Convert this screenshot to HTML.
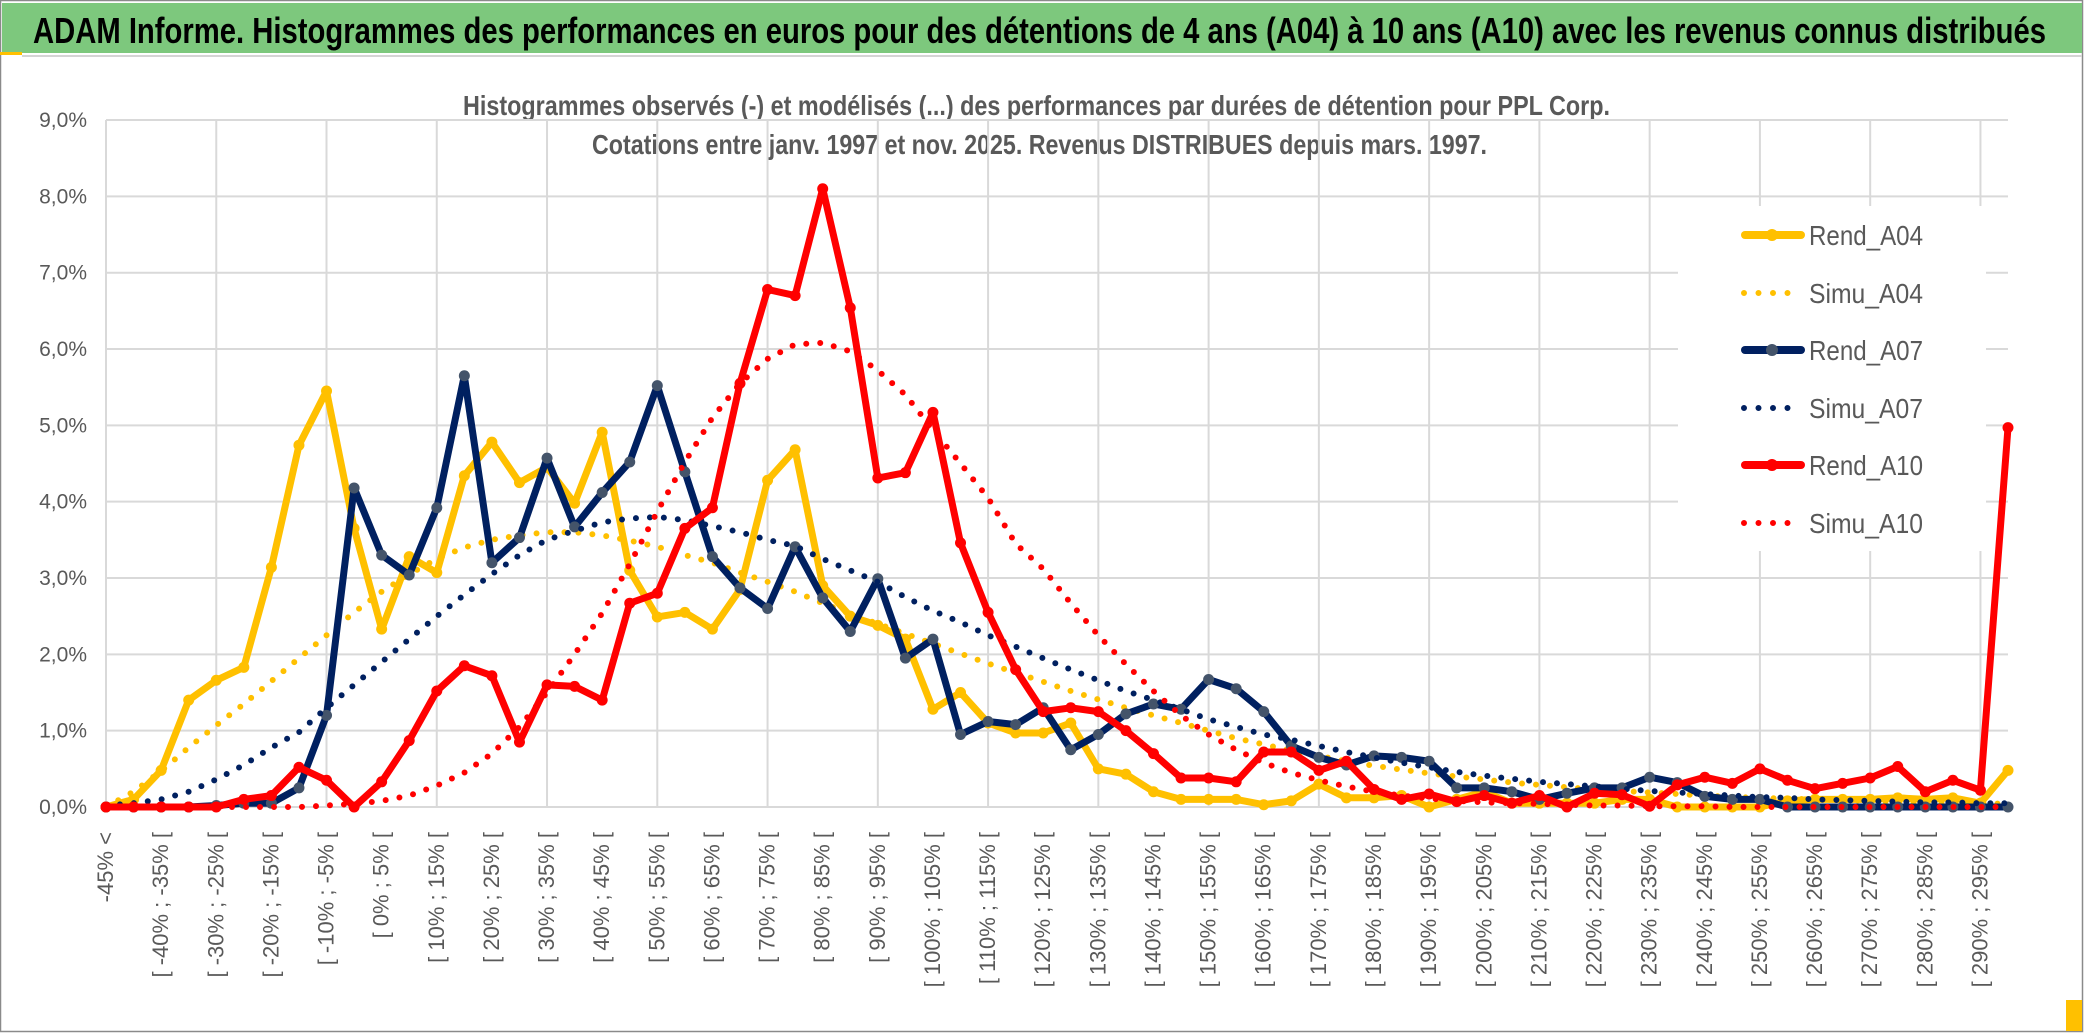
<!DOCTYPE html>
<html><head><meta charset="utf-8"><style>
html,body{margin:0;padding:0;background:#fff;}
svg{display:block;font-family:"Liberation Sans",sans-serif;}
</style></head><body>
<svg id="chart" width="2086" height="1033" viewBox="0 0 2086 1033" xmlns="http://www.w3.org/2000/svg">
<rect x="0.5" y="0.5" width="2082" height="1031" fill="#fff" stroke="#8a8a8a" stroke-width="1.5"/>
<rect x="2" y="3" width="2080" height="50" fill="#7dc87d"/>
<rect x="0" y="52" width="22" height="3" fill="#ffc000"/>
<rect x="22" y="55" width="2060" height="2" fill="#d4d4d4"/>
<text x="33" y="43" font-size="36" font-weight="bold" fill="#000" textLength="2013" lengthAdjust="spacingAndGlyphs">ADAM Informe. Histogrammes des performances en euros pour des détentions de 4 ans (A04) à 10 ans (A10) avec les revenus connus distribués</text>
<text x="463" y="115" font-size="28" font-weight="bold" fill="#595959" textLength="1147" lengthAdjust="spacingAndGlyphs">Histogrammes observés (-) et modélisés (...) des performances par durées de détention pour PPL Corp.</text>
<text x="592" y="154" font-size="28" font-weight="bold" fill="#595959" textLength="895" lengthAdjust="spacingAndGlyphs">Cotations entre janv. 1997 et nov. 2025. Revenus DISTRIBUES depuis mars. 1997.</text>
<g id="grid"></g>
<g id="ylabels"></g>
<g id="xlabels"></g>
<rect x="1678" y="206" width="308" height="345" fill="#fff"/>
<g id="series"></g>
<g id="legend"></g>
<rect x="2066" y="1000" width="16" height="31" fill="#ffc000"/>
</svg>
<script>
const rendA04 = [0,0.1,0.48,1.4,1.66,1.83,3.14,4.74,5.45,3.65,2.33,3.28,3.07,4.34,4.78,4.25,4.45,3.98,4.91,3.1,2.49,2.55,2.33,2.85,4.28,4.68,2.9,2.5,2.38,2.2,1.28,1.5,1.1,0.97,0.97,1.1,0.5,0.43,0.2,0.1,0.1,0.1,0.03,0.08,0.3,0.12,0.12,0.15,0.0,0.1,0.2,0.05,0.05,0.05,0.05,0.1,0.1,0.0,0.0,0.0,0.0,0.08,0.1,0.1,0.1,0.12,0.1,0.12,0.05,0.48];
const simuA04 = [0,0.2,0.47,0.78,1.07,1.35,1.65,1.95,2.25,2.55,2.82,3.05,3.25,3.4,3.5,3.56,3.6,3.6,3.56,3.49,3.41,3.3,3.2,3.07,2.95,2.82,2.67,2.53,2.4,2.27,2.14,2.01,1.88,1.76,1.64,1.52,1.41,1.3,1.2,1.1,1.0,0.9,0.82,0.74,0.67,0.6,0.54,0.49,0.44,0.4,0.36,0.32,0.29,0.26,0.23,0.21,0.19,0.17,0.15,0.13,0.12,0.11,0.1,0.09,0.08,0.07,0.06,0.05,0.05,0.04];
const rendA07 = [0,0,0,0,0.02,0.05,0.05,0.25,1.2,4.18,3.3,3.04,3.92,5.65,3.2,3.53,4.57,3.67,4.12,4.52,5.52,4.39,3.28,2.87,2.6,3.41,2.74,2.3,2.99,1.95,2.2,0.95,1.12,1.08,1.3,0.75,0.95,1.22,1.35,1.28,1.67,1.55,1.25,0.8,0.65,0.55,0.67,0.65,0.6,0.25,0.25,0.2,0.1,0.18,0.25,0.25,0.39,0.32,0.14,0.1,0.1,0,0,0,0,0,0,0,0,0];
const simuA07 = [0.02,0.05,0.1,0.2,0.36,0.55,0.78,0.98,1.3,1.6,1.9,2.2,2.5,2.78,3.05,3.3,3.5,3.62,3.73,3.78,3.8,3.76,3.68,3.6,3.5,3.42,3.25,3.1,2.95,2.75,2.57,2.42,2.25,2.1,1.95,1.8,1.66,1.52,1.4,1.28,1.15,1.05,0.95,0.88,0.8,0.72,0.65,0.58,0.52,0.46,0.41,0.37,0.33,0.3,0.27,0.24,0.21,0.19,0.17,0.15,0.13,0.12,0.1,0.09,0.08,0.07,0.06,0.06,0.05,0.05];
const rendA10 = [0,0,0,0,0,0.1,0.15,0.52,0.35,0,0.33,0.87,1.52,1.85,1.72,0.85,1.6,1.58,1.4,2.67,2.8,3.65,3.92,5.55,6.78,6.7,8.1,6.54,4.31,4.38,5.17,3.46,2.55,1.8,1.25,1.3,1.25,1.0,0.7,0.38,0.38,0.33,0.72,0.72,0.48,0.6,0.23,0.1,0.17,0.07,0.15,0.05,0.15,0.0,0.18,0.16,0.01,0.29,0.39,0.31,0.5,0.35,0.24,0.31,0.38,0.53,0.2,0.35,0.22,4.97];
const simuA10 = [0,0,0,0,0,0,0,0,0.02,0.04,0.08,0.15,0.28,0.45,0.7,1.05,1.5,2.0,2.54,3.18,3.87,4.52,5.1,5.55,5.87,6.06,6.08,5.97,5.72,5.4,4.94,4.5,4.05,3.45,3.12,2.67,2.25,1.87,1.52,1.2,0.95,0.75,0.58,0.45,0.35,0.27,0.2,0.15,0.11,0.08,0.06,0.05,0.04,0.03,0.02,0.02,0.01,0.01,0.01,0,0,0,0,0,0,0,0,0,0,0];
const yTicks = [0,1,2,3,4,5,6,7,8,9];
const binLower = [-45,-40,-35,-30,-25,-20,-15,-10,-5,0,5,10,15,20,25,30,35,40,45,50,55,60,65,70,75,80,85,90,95,100,105,110,115,120,125,130,135,140,145,150,155,160,165,170,175,180,185,190,195,200,205,210,215,220,225,230,235,240,245,250,255,260,265,270,275,280,285,290,295];
const categories = ["-45% <"].concat(binLower.map(b => "[ " + b + "% ; " + (b + 5) + "% ["));

const NS = "http://www.w3.org/2000/svg";
const X0 = 106, X1 = 2008, Y0 = 807, PX_PER_PCT = 76.33;
const N = categories.length;
function xPos(i){ return X0 + i * (X1 - X0) / (N - 1); }
function yPos(v){ return Y0 - v * PX_PER_PCT; }
function mk(tag, attrs, parent){ const e = document.createElementNS(NS, tag); for (const k in attrs) e.setAttribute(k, attrs[k]); parent.appendChild(e); return e; }

const grid = document.getElementById('grid');
yTicks.forEach(t => {
  const l = mk('line', {x1: X0, x2: X1, y1: yPos(t), y2: yPos(t), stroke: '#d9d9d9', 'stroke-width': 2}, grid);
  
  
});
for (let i = 0; i < N; i += 4) {
  const l = mk('line', {x1: xPos(i), x2: xPos(i), y1: yPos(9), y2: Y0, stroke: '#d9d9d9', 'stroke-width': 2}, grid);
  
  
}
const yl = document.getElementById('ylabels');
yTicks.forEach(t => {
  const tx = mk('text', {x: 87, y: yPos(t) + 7, 'text-anchor': 'end', 'font-size': 21, fill: '#595959'}, yl);
  tx.textContent = t.toFixed(1).replace('.', ',') + '%';
  
  
});
const xl = document.getElementById('xlabels');
for (let i = 0; i < N; i += 2) {
  const x = xPos(i) + 7, y = 832;
  const tx = mk('text', {x: x, y: y, 'text-anchor': 'end', 'font-size': 22, fill: '#595959', transform: 'rotate(-90 ' + x + ' ' + y + ')'}, xl);
  tx.textContent = categories[i];
  
  
}

const series = [
  {name: 'Rend_A04', data: rendA04, color: '#ffc000', marker: '#ffc000', dotted: false},
  {name: 'Simu_A04', data: simuA04, color: '#ffc000', dotted: true},
  {name: 'Rend_A07', data: rendA07, color: '#002060', marker: '#44546a', dotted: false},
  {name: 'Simu_A07', data: simuA07, color: '#002060', dotted: true},
  {name: 'Rend_A10', data: rendA10, color: '#ff0000', marker: '#ff0000', dotted: false},
  {name: 'Simu_A10', data: simuA10, color: '#ff0000', dotted: true}
];
const sg = document.getElementById('series');
series.forEach(s => {
  const g = mk('g', {}, sg);
  
  
  const pts = s.data.map((v, i) => xPos(i).toFixed(1) + ',' + yPos(v).toFixed(1)).join(' ');
  const attrs = {points: pts, fill: 'none', stroke: s.color, 'stroke-linejoin': 'round', 'stroke-linecap': 'round'};
  if (s.dotted) { attrs['stroke-width'] = 6; attrs['stroke-dasharray'] = '0 14'; }
  else { attrs['stroke-width'] = 7; }
  const pl = mk('polyline', attrs, g);
  
  
  if (!s.dotted) {
    s.data.forEach((v, i) => {
      const c = mk('circle', {cx: xPos(i), cy: yPos(v), r: 5.5, fill: s.marker}, g);
      
      
    });
  }
});

const lg = document.getElementById('legend');
const legendY = [235, 293, 350, 408, 465, 523];
series.forEach((s, k) => {
  const g = mk('g', {}, lg);
  
  
  const y = legendY[k];
  if (s.dotted) {
    mk('line', {x1: 1744, x2: 1800, y1: y, y2: y, stroke: s.color, 'stroke-width': 6, 'stroke-linecap': 'round', 'stroke-dasharray': '0 14.5'}, g);
  } else {
    mk('line', {x1: 1745, x2: 1801, y1: y, y2: y, stroke: s.color, 'stroke-width': 8, 'stroke-linecap': 'round'}, g);
    mk('circle', {cx: 1772, cy: y, r: 6, fill: s.marker}, g);
  }
  const t = mk('text', {x: 1809, y: y + 10, 'font-size': 28, fill: '#595959', textLength: 114, lengthAdjust: 'spacingAndGlyphs'}, g);
  t.textContent = s.name;
});
</script>
</body></html>
